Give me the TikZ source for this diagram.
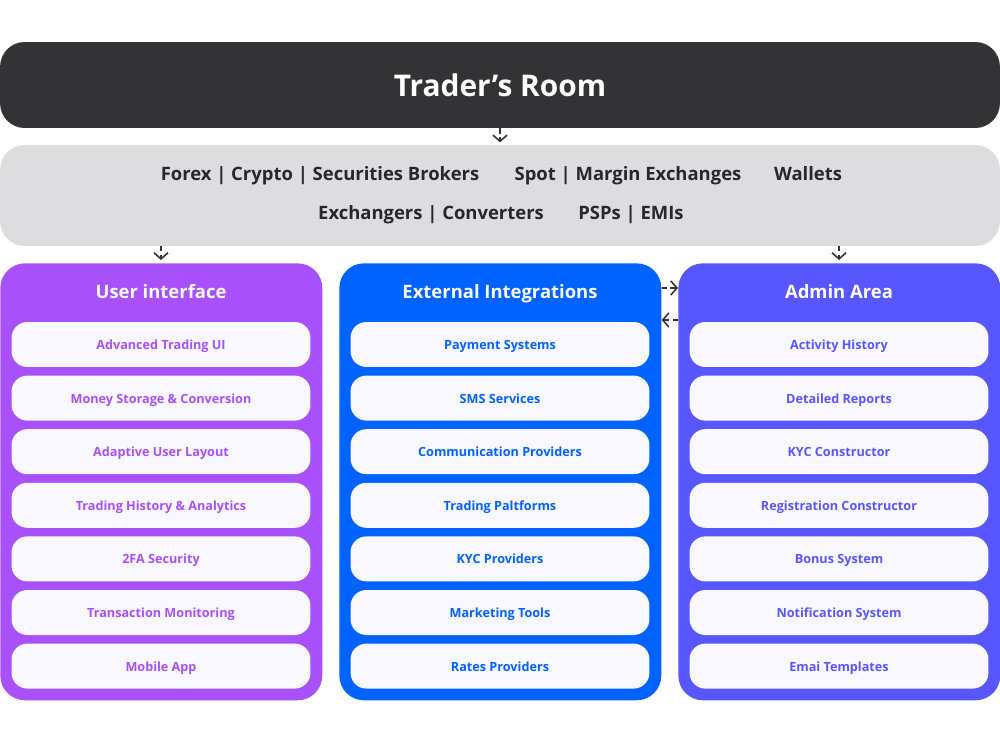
\documentclass[tikz,border=0pt]{standalone}
\usepackage{fontspec}
\setmainfont{Open Sans}
\usetikzlibrary{positioning,arrows.meta}
\definecolor{dark-800}{RGB}{51,51,53}
\definecolor{gray-200}{RGB}{221,221,223}
\definecolor{gray-800}{RGB}{40,40,42}
\definecolor{purple-500}{RGB}{168,80,250}
\definecolor{blue-600}{RGB}{0,98,255}
\definecolor{indigo-500}{RGB}{88,86,255}
\definecolor{item-bg}{RGB}{250,248,255}

\tikzset{
    column/.style={rounded corners=14pt, minimum width=6.44cm, minimum height=8.74cm, anchor=north west, inner sep=0pt},
    header/.style={font=\fontsize{10.5}{12}\selectfont\bfseries, text=white, text height=1.4ex, text depth=0.35ex},
    item/.style={fill=item-bg, rounded corners=9pt, minimum width=5.98cm, minimum height=0.9cm, inner sep=0pt,
        font=\fontsize{7.2}{9}\selectfont\bfseries, text height=1.4ex, text depth=0.35ex},
    band/.style={font=\fontsize{10.5}{12}\selectfont\bfseries, text=gray-800, text height=1.4ex, text depth=0.35ex},
    flow/.style={densely dashed, line width=0.9pt, draw=dark-800, -{Straight Barb[length=3.5pt,width=8pt,line width=0.9pt]}}
}

\begin{document}
\begin{tikzpicture}[x=0.02cm, y=-0.02cm]

\useasboundingbox[fill=white] (0,0) rectangle (1000,743);

% Top bar
\node[fill=dark-800, rounded corners=14pt, minimum width=20cm, minimum height=1.72cm, inner sep=0pt,
      text=white, font=\fontsize{17}{20}\selectfont\bfseries] (room) at (500,85) {Trader’s Room};

% Business types band
\node[fill=gray-200, rounded corners=14pt, minimum width=20cm, minimum height=2.02cm, inner sep=0pt] (types) at (500,195.5) {};
\node[band] (brokers) at (320,176) {Forex | Crypto | Securities Brokers};
\node[band] (exchanges) at (628,176) {Spot | Margin Exchanges};
\node[band] (wallets) at (808,176) {Wallets};
\node[band] (exchangers) at (431,215) {Exchangers | Converters};
\node[band] (psps) at (631,215) {PSPs | EMIs};

% Columns
\node[column, fill=purple-500] (ui) at (0,263) {};
\node[column, fill=blue-600] (ext) at (339,263) {};
\node[column, fill=indigo-500] (admin) at (678,263) {};

\node[header] at (161,294) {User interface};
\node[header] at (500,294) {External Integrations};
\node[header] at (839,294) {Admin Area};

% Items
\foreach \txt [count=\i] in {Advanced Trading UI, Money Storage \& Conversion, Adaptive User Layout,
        Trading History \& Analytics, 2FA Security, Transaction Monitoring, Mobile App}
    \node[item, text=purple-500] (ui-\i) at (161,{344.5+53.6*(\i-1)}) {\txt};
\foreach \txt [count=\i] in {Payment Systems, SMS Services, Communication Providers,
        Trading Paltforms, KYC Providers, Marketing Tools, Rates Providers}
    \node[item, text=blue-600] (ext-\i) at (500,{344.5+53.6*(\i-1)}) {\txt};
\foreach \txt [count=\i] in {Activity History, Detailed Reports, KYC Constructor,
        Registration Constructor, Bonus System, Notification System, Emai Templates}
    \node[item, text=indigo-500] (admin-\i) at (839,{344.5+53.6*(\i-1)}) {\txt};

% Connectors
\coordinate (ui-in) at (161,246);
\coordinate (admin-in) at (839,246);
\draw[flow] (room.south) -- ++(0,14);
\draw[flow] (ui-in) -- ++(0,14);
\draw[flow] (admin-in) -- ++(0,14);
\draw[flow] (ext.north east |- 0,288) -- (admin.north west |- 0,288);
\draw[flow] (admin.north west |- 0,320) -- (ext.north east |- 0,320);

\end{tikzpicture}
\end{document}
